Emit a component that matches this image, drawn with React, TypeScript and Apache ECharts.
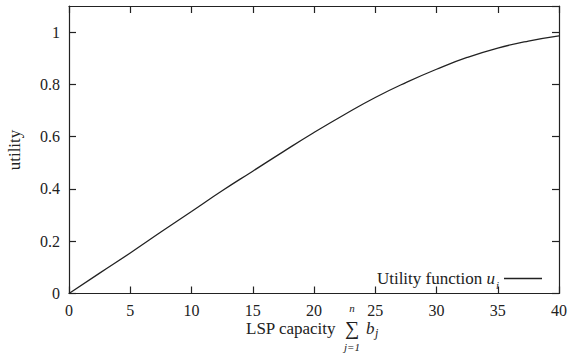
import React, { useEffect, useRef } from "react";
import * as echarts from "echarts";

const xValues = [0, 2.5, 5, 7.5, 10, 12.5, 15, 17.5, 20, 22.5, 25, 27.5, 30, 32.5, 35, 37.5, 40];
const utilityValues = [0, 0.078, 0.155, 0.235, 0.314, 0.393, 0.468, 0.543, 0.616, 0.685, 0.75, 0.807, 0.858, 0.903, 0.939, 0.966, 0.986];
const seriesName = "Utility function u_i";

const FONT = "Liberation Serif";
const INK = "#222";

export default function App() {
  const ref = useRef<HTMLDivElement>(null);
  useEffect(() => {
    if (!ref.current) return;
    const chart = echarts.init(ref.current, undefined, { renderer: "svg" });
    const data = xValues.map((x, i) => [x, utilityValues[i]]);
    const axisLine = { show: true, onZero: false, lineStyle: { color: INK, width: 1.2 } };
    const tick = { show: true, inside: true, length: 7, lineStyle: { color: INK, width: 1.2 } };
    chart.setOption({
      animation: false,
      backgroundColor: "#fff",
      grid: { left: 69, top: 6, right: 7, bottom: 61.5, containLabel: false },
      xAxis: [
        {
          type: "value", min: 0, max: 40, interval: 5,
          axisLine, axisTick: tick, splitLine: { show: false },
          axisLabel: { color: INK, fontFamily: FONT, fontSize: 16, margin: 9 },
        },
        {
          type: "value", position: "top", min: 0, max: 40, interval: 5,
          axisLine, axisTick: tick, splitLine: { show: false }, axisLabel: { show: false },
        },
      ],
      yAxis: [
        {
          type: "value", min: 0, max: 1.1, interval: 0.2,
          axisLine, axisTick: tick, splitLine: { show: false },
          axisLabel: {
            color: INK, fontFamily: FONT, fontSize: 16, margin: 9, showMaxLabel: false,
            formatter: (v: number) => (Math.abs(v - 1.1) < 1e-6 ? "" : String(Math.round(v * 10) / 10)),
          },
        },
        {
          type: "value", position: "right", min: 0, max: 1.1, interval: 0.2,
          axisLine, axisTick: tick, splitLine: { show: false }, axisLabel: { show: false },
        },
      ],
      legend: {
        right: 23, top: 265, align: "right", itemWidth: 38, itemHeight: 1.4,
        data: [{ name: seriesName, icon: "rect" }],
        formatter: () => "{t|Utility function }{u|u}{s|i}",
        textStyle: {
          color: INK, fontFamily: FONT, fontSize: 17,
          rich: {
            t: { fontFamily: FONT, fontSize: 17, color: INK },
            u: { fontFamily: FONT, fontSize: 17, fontStyle: "italic", color: INK },
            s: { fontFamily: FONT, fontSize: 11, fontStyle: "italic", color: INK, padding: [14, 0, 0, 1] },
          },
        },
      },
      series: [
        {
          name: seriesName, type: "line", data, smooth: true, symbol: "none",
          xAxisIndex: 0, yAxisIndex: 0,
          lineStyle: { color: INK, width: 1.3 },
          itemStyle: { color: INK },
        },
      ],
      graphic: [
        {
          type: "text", x: 14, y: 150, rotation: Math.PI / 2,
          style: { text: "utility", fontFamily: FONT, fontSize: 17, fill: INK, align: "center", verticalAlign: "middle" },
        },
        {
          type: "text", x: 246, y: 328,
          style: { text: "LSP capacity", fontFamily: FONT, fontSize: 17, fill: INK, align: "left", verticalAlign: "middle" },
        },
        {
          type: "text", x: 352, y: 328,
          style: { text: "∑", fontFamily: FONT, fontSize: 20, fill: INK, align: "center", verticalAlign: "middle" },
        },
        {
          type: "text", x: 352, y: 308,
          style: { text: "n", fontFamily: FONT, fontSize: 11, fontStyle: "italic", fill: INK, align: "center", verticalAlign: "middle" },
        },
        {
          type: "text", x: 352, y: 347,
          style: { text: "j=1", fontFamily: FONT, fontSize: 11, fontStyle: "italic", fill: INK, align: "center", verticalAlign: "middle" },
        },
        {
          type: "text", x: 366, y: 328,
          style: { text: "b", fontFamily: FONT, fontSize: 17, fontStyle: "italic", fill: INK, align: "left", verticalAlign: "middle" },
        },
        {
          type: "text", x: 375, y: 333,
          style: { text: "j", fontFamily: FONT, fontSize: 12, fontStyle: "italic", fill: INK, align: "left", verticalAlign: "middle" },
        },
      ],
    });
    return () => chart.dispose();
  }, []);
  return (
    <div
      ref={ref}
      style={{ position: "fixed", left: 0, top: 0, width: 570, height: 355, background: "#fff" }}
    />
  );
}
